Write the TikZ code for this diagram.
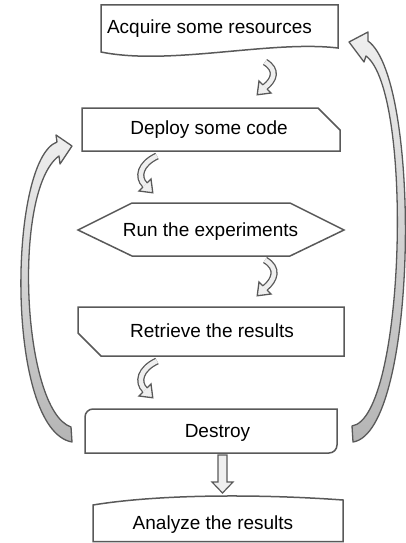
\documentclass[tikz,border=0pt]{standalone}
\usepackage{fontspec}
\setmainfont{Liberation Sans}
\definecolor{edgec}{HTML}{595959}
\definecolor{litec}{HTML}{EFEFEF}
\definecolor{darkc}{HTML}{B5B5B5}
\tikzset{
  boxline/.style={draw=edgec, line width=1.5pt, fill=white, line join=miter},
  lbl/.style={font=\fontsize{19}{22}\selectfont, inner sep=0pt, text=black, anchor=base},
  smallshaft/.style={draw=edgec, line width=1.3pt, double=litec, double distance=4.6pt},
  bigarrow/.style={draw=edgec, line width=1.3pt, top color=litec, bottom color=darkc, line join=round},
  blockarrow/.style={draw=edgec, line width=1.2pt, fill=litec, line join=miter},
}
\newcommand{\headat}[2]{%
  \begin{scope}[shift={(#1)}, rotate=#2]
    \fill[litec] (0,-8.5) -- (11,0) -- (0,8.5) -- cycle;
    \draw[edgec, line width=1.3pt, line join=miter] (0,-2.95) -- (0,-8.5) -- (11,0) -- (0,8.5) -- (0,2.95);
  \end{scope}}
\begin{document}
\begin{tikzpicture}[x=1pt, y=1pt]
\useasboundingbox (0,0) rectangle (406,-543);

% boxes
\path[boxline] (101,-5) -- (338,-5) -- (338,-48) .. controls (270,-40) and (170,-66) .. (101,-52) -- cycle;
\path[boxline] (82,-108) -- (318,-108) -- (340,-130) -- (340,-151) -- (82,-151) -- cycle;
\path[boxline] (78,-230) -- (132,-203) -- (290,-203) -- (344,-230) -- (290,-256) -- (132,-256) -- cycle;
\path[boxline] (78,-307) -- (344,-307) -- (344,-356) -- (101,-356) -- (78,-333) -- cycle;
\path[boxline] (85,-453) -- (85,-417) arc[start angle=180, end angle=90, radius=8pt] -- (337,-409) -- (337,-445) arc[start angle=0, end angle=-90, radius=8pt] -- cycle;
\path[boxline] (93,-505) .. controls (160,-494) and (260,-494) .. (343,-500) -- (343,-541.5) -- (93,-541.5) -- cycle;

% labels
\node[lbl] (acq) at (209.5,-33.5) {Acquire some resources};
\node[lbl] (dep) at (209,-134.6) {Deploy some code};
\node[lbl] (run) at (210.5,-236) {Run the experiments};
\node[lbl] (ret) at (212,-337.8) {Retrieve the results};
\node[lbl] (des) at (217.5,-437.8) {Destroy};
\node[lbl] (ana) at (213,-529.3) {Analyze the results};

% small curved arrows
\coordinate (a1s) at (265,-62);  \coordinate (a1e) at (265,-87);
\draw[smallshaft] (a1s) .. controls (278,-70) and (274,-80) .. (a1e);
\headat{a1e}{225}
\coordinate (a2s) at (157,-156); \coordinate (a2e) at (145,-185);
\draw[smallshaft] (a2s) .. controls (140,-164) and (137,-177) .. (a2e);
\headat{a2e}{-45}
\coordinate (a3s) at (265,-260); \coordinate (a3e) at (265,-288);
\draw[smallshaft] (a3s) .. controls (279,-268) and (275,-280) .. (a3e);
\headat{a3e}{225}
\coordinate (a4s) at (157,-361); \coordinate (a4e) at (145,-390);
\draw[smallshaft] (a4s) .. controls (140,-369) and (137,-382) .. (a4e);
\headat{a4e}{-45}

% straight block arrow
\path[blockarrow] (218,-455) -- (227,-455) -- (227,-482) -- (233,-482) -- (222.5,-493) -- (212,-482) -- (218,-482) -- cycle;

% big curved arrows
\path[bigarrow] (353,-442) .. controls (418,-432) and (422,-80) .. (368,-41)
  -- (368,-32) -- (349,-42) -- (364,-62) -- (366,-56)
  .. controls (414,-92) and (405,-418) .. (352,-426) -- cycle;
\path[bigarrow] (72,-442) -- (71,-427) .. controls (22,-410) and (12,-190) .. (59,-156)
  -- (60,-164) -- (72,-146) -- (56,-135) -- (57,-142)
  .. controls (8,-160) and (5,-430) .. (72,-442) -- cycle;
\end{tikzpicture}
\end{document}
